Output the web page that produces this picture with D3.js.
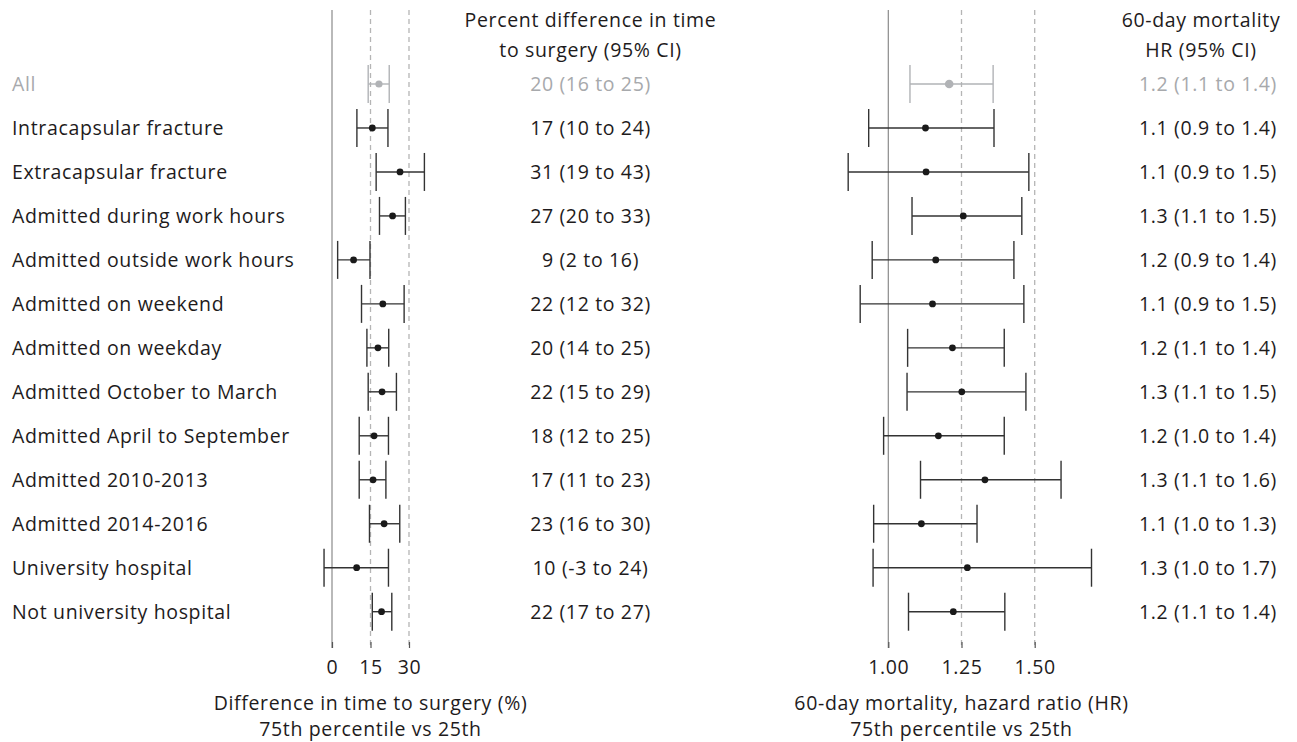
<!DOCTYPE html>
<html>
<head>
<meta charset="utf-8">
<script src="https://cdn.jsdelivr.net/npm/d3@7"></script>
<style>
  html, body { margin: 0; padding: 0; background: #fff; }
  svg { display: block; }
  text { font-family: "Open Sans", "Liberation Sans", sans-serif; font-size: 19.5px; letter-spacing: 0.65px; fill: #1e1b1c; }
</style>
</head>
<body>
<svg id="chart" width="1297" height="742"></svg>
<script>
const categories = ["All", "Intracapsular fracture", "Extracapsular fracture", "Admitted during work hours",
  "Admitted outside work hours", "Admitted on weekend", "Admitted on weekday", "Admitted October to March",
  "Admitted April to September", "Admitted 2010-2013", "Admitted 2014-2016", "University hospital",
  "Not university hospital"];

const pctEst = [18.3, 15.7, 26.5, 23.6, 8.4, 19.8, 17.9, 19.5, 16.4, 16.0, 20.3, 9.6, 19.3];
const pctLo  = [14.1, 9.7, 17.2, 18.5, 2.2, 11.5, 13.6, 14.1, 10.6, 10.6, 14.6, -3.1, 15.7];
const pctHi  = [22.3, 21.8, 36.0, 28.6, 14.8, 28.1, 22.1, 25.1, 22.0, 21.0, 26.4, 22.0, 23.3];
const pctLabels = ["20 (16 to 25)", "17 (10 to 24)", "31 (19 to 43)", "27 (20 to 33)", "9 (2 to 16)",
  "22 (12 to 32)", "20 (14 to 25)", "22 (15 to 29)", "18 (12 to 25)", "17 (11 to 23)", "23 (16 to 30)",
  "10 (-3 to 24)", "22 (17 to 27)"];

const hrEst = [1.208, 1.127, 1.129, 1.256, 1.162, 1.151, 1.219, 1.251, 1.171, 1.330, 1.113, 1.270, 1.222];
const hrLo  = [1.074, 0.933, 0.863, 1.081, 0.945, 0.904, 1.066, 1.064, 0.984, 1.110, 0.950, 0.948, 1.069];
const hrHi  = [1.358, 1.361, 1.480, 1.456, 1.429, 1.463, 1.396, 1.470, 1.396, 1.590, 1.303, 1.694, 1.398];
const hrLabels = ["1.2 (1.1 to 1.4)", "1.1 (0.9 to 1.4)", "1.1 (0.9 to 1.5)", "1.3 (1.1 to 1.5)",
  "1.2 (0.9 to 1.4)", "1.1 (0.9 to 1.5)", "1.2 (1.1 to 1.4)", "1.3 (1.1 to 1.5)", "1.2 (1.0 to 1.4)",
  "1.3 (1.1 to 1.6)", "1.1 (1.0 to 1.3)", "1.3 (1.0 to 1.7)", "1.2 (1.1 to 1.4)"];

const pctTicks = [0, 15, 30];
const hrTicks = [1.00, 1.25, 1.50];
const pctHeader = ["Percent difference in time", "to surgery (95% CI)"];
const hrHeader = ["60-day mortality", "HR (95% CI)"];
const pctTitle = ["Difference in time to surgery (%)", "75th percentile vs 25th"];
const hrTitle = ["60-day mortality, hazard ratio (HR)", "75th percentile vs 25th"];

const svg = d3.select("#chart");
const dark = "#1e1b1c", grayText = "#a7a9ac", barDark = "#333333", barGray = "#b1b3b6";
const refTop = 10, refBottom = 642;

const y = d3.scalePoint().domain(categories).range([84, 611.7]).padding(0);
const xP = d3.scaleLinear().domain([0, 30]).range([332, 409]);
const xH = d3.scaleLinear().domain([1, 1.5]).range([888.3, 1034.7]);

const rows = categories.map((c, i) => ({
  cat: c, i,
  pe: pctEst[i], pl: pctLo[i], ph: pctHi[i], pt: pctLabels[i],
  he: hrEst[i], hl: hrLo[i], hh: hrHi[i], ht: hrLabels[i]
}));

function refLines(x, ticks) {
  const g = svg.append("g");
  ticks.forEach((t, k) => {
    g.append("line")
      .attr("x1", x(t)).attr("x2", x(t))
      .attr("y1", refTop).attr("y2", refBottom + 6)
      .attr("stroke", k === 0 ? "#8a8a8a" : "#b5b5b5")
      .attr("stroke-width", k === 0 ? 1.2 : 1.3)
      .attr("stroke-dasharray", k === 0 ? null : "5,4");
  });
  const ax = svg.append("g")
    .attr("transform", `translate(0,${refBottom})`)
    .call(d3.axisBottom(x).tickValues(ticks).tickSize(6).tickPadding(12)
      .tickFormat(x === xH ? d3.format(".2f") : d3.format("d")));
  ax.select(".domain").remove();
  ax.selectAll(".tick line").attr("stroke", "#555").attr("stroke-width", 1.2);
  ax.selectAll(".tick text").attr("fill", dark).style("font-size", "19.5px")
    .style("font-family", '"Open Sans", "Liberation Sans", sans-serif');
}
refLines(xP, pctTicks);
refLines(xH, hrTicks);

function forest(x, lo, hi, est, rAll) {
  const g = svg.append("g");
  const capH = 19;
  const gr = g.selectAll("g.row").data(rows).join("g")
    .attr("transform", d => `translate(0,${y(d.cat)})`);
  const col = d => d.i === 0 ? barGray : barDark;
  gr.append("line").attr("x1", d => x(d[lo])).attr("x2", d => x(d[hi]))
    .attr("y1", 0).attr("y2", 0).attr("stroke", col).attr("stroke-width", 1.4);
  gr.append("line").attr("x1", d => x(d[lo])).attr("x2", d => x(d[lo]))
    .attr("y1", -capH).attr("y2", capH).attr("stroke", col).attr("stroke-width", 1.4);
  gr.append("line").attr("x1", d => x(d[hi])).attr("x2", d => x(d[hi]))
    .attr("y1", -capH).attr("y2", capH).attr("stroke", col).attr("stroke-width", 1.4);
  gr.append("circle").attr("cx", d => x(d[est])).attr("cy", 0)
    .attr("r", d => d.i === 0 ? rAll : 3.4)
    .attr("fill", d => d.i === 0 ? barGray : "#1a1a1a");
}
forest(xP, "pl", "ph", "pe", 3.6);
forest(xH, "hl", "hh", "he", 4.3);

// row labels and value columns
const tg = svg.append("g");
const tcol = d => d.i === 0 ? grayText : dark;
tg.selectAll("text.cat").data(rows).join("text").attr("class", "cat")
  .attr("x", 12).attr("y", d => y(d.cat)).attr("dy", "0.35em")
  .style("fill", tcol).text(d => d.cat);
tg.selectAll("text.pv").data(rows).join("text").attr("class", "pv")
  .attr("x", 590.5).attr("y", d => y(d.cat)).attr("dy", "0.35em")
  .attr("text-anchor", "middle").style("fill", tcol).text(d => d.pt);
tg.selectAll("text.hv").data(rows).join("text").attr("class", "hv")
  .attr("x", 1277).attr("y", d => y(d.cat)).attr("dy", "0.35em")
  .attr("text-anchor", "end").style("fill", tcol).text(d => d.ht);

// headers
function lines(arr, x, y0, dy) {
  arr.forEach((t, k) => {
    svg.append("text").attr("x", x).attr("y", y0 + k * dy)
      .attr("text-anchor", "middle").text(t);
  });
}
lines(pctHeader, 590.5, 27, 29.8);
lines(hrHeader, 1201, 27, 29.8);
lines(pctTitle, xP(15), 709.5, 26.5);
lines(hrTitle, xH(1.25), 709.5, 26.5);
</script>
</body>
</html>
